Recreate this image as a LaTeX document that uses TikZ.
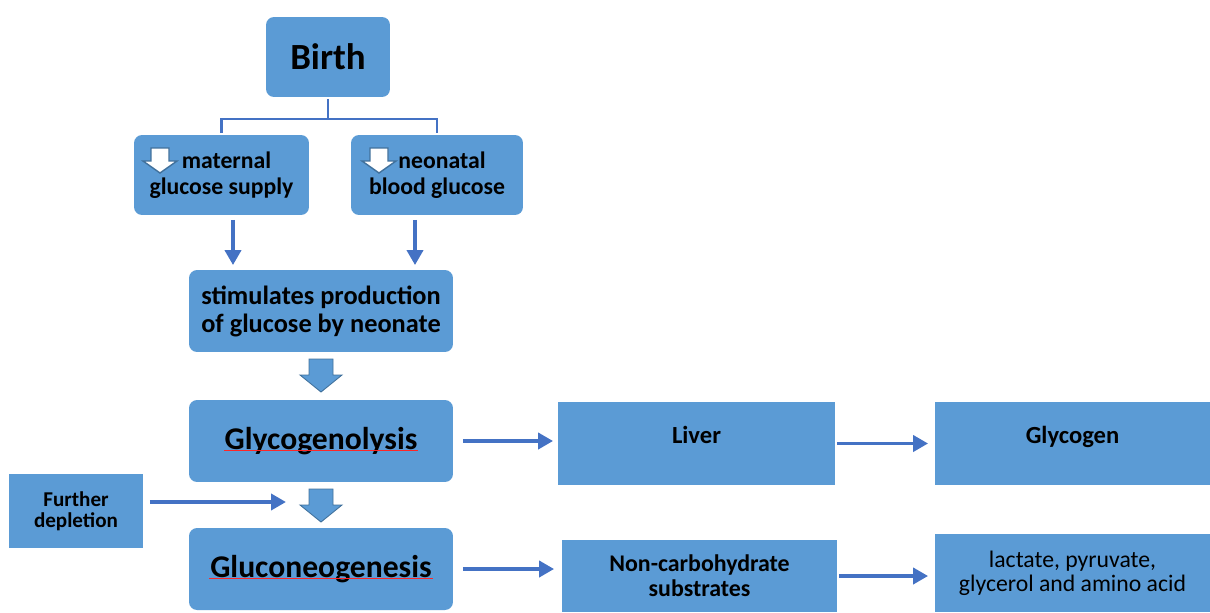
\documentclass[tikz,border=0pt]{standalone}
\usepackage{fontspec}
\setmainfont{Carlito}
\usetikzlibrary{arrows.meta}

\definecolor{boxblue}{RGB}{91,155,213}
\definecolor{lineblue}{RGB}{68,114,196}
\definecolor{edgeblue}{RGB}{65,113,156}

\tikzset{
	box/.style = {fill = boxblue, inner sep = 0, align = center, font = \bfseries},
	rbox/.style = {box, rounded corners = 0.16cm},
	top text/.style = {text depth = 0.34cm},
	down icon/.pic = {
		\path [pic actions] (-9, 0) -- (9, 0) -- (9, 13) -- (17, 13) -- (0, 25) -- (-17, 13) -- (-9, 13) -- cycle;
	},
	block down/.pic = {
		\path [pic actions] (-12, 0) -- (12, 0) -- (12, 16) -- (21, 16) -- (0, 33) -- (-21, 16) -- (-12, 16) -- cycle;
	}
}

\begin{document}
\begin{tikzpicture}[x = 0.02cm, y = -0.02cm, > = {Triangle[length = 0.3cm, width = 0.32cm]}, line width = 2.2pt]

	\useasboundingbox (0, 0) rectangle (1210, 612);
	
	% Birth and the two drops
	
	\node (birth) [rbox, minimum width = 2.48cm, minimum height = 1.6cm, font = \fontsize{21}{25}\selectfont\bfseries] at (328, 57) {Birth};
	\node (maternal) [rbox, minimum width = 3.5cm, minimum height = 1.6cm, font = \fontsize{13.5}{14.7}\selectfont\bfseries] at (221.5, 175) {\hspace*{0.2cm}maternal\\glucose supply};
	\node (neonatal) [rbox, minimum width = 3.44cm, minimum height = 1.6cm, font = \fontsize{13.5}{14.7}\selectfont\bfseries] at (437, 175) {\hspace*{0.2cm}neonatal\\blood glucose};
	
	\pic [fill = white, draw = edgeblue, line width = 0.8pt] at (160, 148) {down icon};
	\pic [fill = white, draw = edgeblue, line width = 0.8pt] at (379, 148) {down icon};
	
	\begin{scope}[draw = lineblue, line width = 1.2pt]
	
		\draw (birth.south) -- ++(0, 20) coordinate (split);
		\draw (maternal.north) |- (split) -| (neonatal.north);
	
	\end{scope}
	
	% Main column
	
	\node (stimulates) [rbox, minimum width = 5.28cm, minimum height = 1.64cm, font = \fontsize{15}{15.9}\selectfont\bfseries] at (321, 311) {stimulates production\\of glucose by neonate};
	\node (glyco) [rbox, minimum width = 5.28cm, minimum height = 1.64cm, font = \fontsize{18}{22}\selectfont\bfseries] at (321, 441) {Glycogenolysis};
	\node (gluco) [rbox, minimum width = 5.28cm, minimum height = 1.64cm, font = \fontsize{18}{22}\selectfont\bfseries] at (321, 569) {Gluconeogenesis};
	\node (further) [box, minimum width = 2.68cm, minimum height = 1.48cm, font = \fontsize{12}{12.2}\selectfont\bfseries] at (76, 511) {Further\\depletion};
	
	\pic [fill = boxblue, draw = edgeblue, line width = 0.5pt] at (321, 359) {block down};
	\pic [fill = boxblue, draw = edgeblue, line width = 0.5pt] at (321, 489) {block down};
	
	\draw [red!85!white, line width = 0.35pt] (224, 450) -- (418, 450);
	\draw [red!85!white, line width = 0.35pt] (209, 578) -- (433, 578);
	
	% Right hand boxes
	
	\node (liver) [box, top text, minimum width = 5.54cm, minimum height = 1.66cm, font = \fontsize{14}{16}\selectfont\bfseries] at (696.5, 443.5) {Liver};
	\node (glycogen) [box, top text, minimum width = 5.5cm, minimum height = 1.66cm, font = \fontsize{14}{16}\selectfont\bfseries] at (1072.5, 443.5) {Glycogen};
	\node (noncarb) [box, minimum width = 5.5cm, minimum height = 1.44cm, font = \fontsize{13.6}{14.2}\selectfont\bfseries] at (699.5, 576) {Non-carbohydrate\\substrates};
	\node (lactate) [box, minimum width = 5.5cm, minimum height = 1.56cm, font = \fontsize{13.5}{13.6}\selectfont] at (1072.5, 573) {lactate, pyruvate,\\glycerol and amino acid};
	
	% Arrows
	
	\begin{scope}[draw = lineblue, ->]
	
		\draw [shorten <= 0.06cm, shorten >= 0.06cm] ([xshift = 0.23cm]maternal.south) -- ([xshift = 0.23cm]maternal.south |- stimulates.north);
		\draw [shorten <= 0.06cm, shorten >= 0.06cm] ([xshift = -0.44cm]neonatal.south) -- ([xshift = -0.44cm]neonatal.south |- stimulates.north);
		
		\draw [shorten <= 0.16cm, shorten >= 0.06cm] (glyco.east) -- (glyco.east -| liver.west);
		\draw [shorten >= 0.1cm] (liver.east) -- (liver.east -| glycogen.west);
		\draw [shorten <= 0.16cm, shorten >= 0.12cm] (gluco.east) -- (gluco.east -| noncarb.west);
		\draw [shorten >= 0.1cm] (noncarb.east) -- (noncarb.east -| lactate.west);
		
		\coordinate (merge) at (286, 502);
		\draw [shorten <= 0.1cm] (further.east |- merge) -- (merge);
	
	\end{scope}

\end{tikzpicture}
\end{document}
